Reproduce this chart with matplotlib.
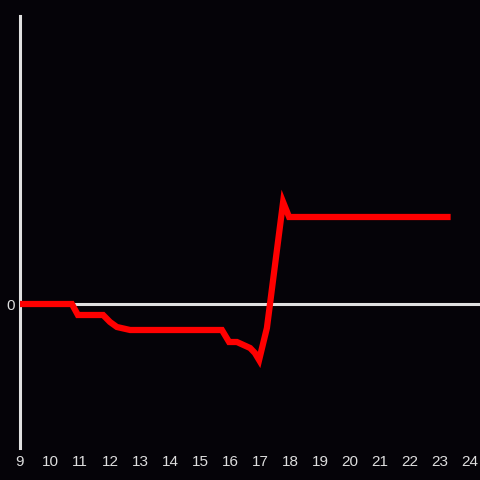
import matplotlib
matplotlib.use("Agg")
import matplotlib.pyplot as plt

hours = [9.0, 10.73, 10.93, 11.77, 12.0, 12.23, 12.67, 15.73, 15.97, 16.23,
         16.67, 16.83, 16.97, 17.23, 17.5, 17.77, 17.97, 23.25]
values = [0, 0, -11, -11, -18, -23, -26, -26, -38, -38,
          -44, -49, -56, -24, 39, 102, 87, 87]
xticks = list(range(9, 25))

plt.rcParams['font.family'] = ['Liberation Sans', 'DejaVu Sans']

bg = '#050308'
fig = plt.figure(figsize=(4.8, 4.8), dpi=100, facecolor=bg)
ax = fig.add_axes([20 / 480, 32 / 480, 460 / 480, 432 / 480], facecolor=bg)

ax.plot(hours, values, color='#ff0000', lw=4.5, solid_joinstyle='miter', zorder=3)
ax.axhline(0, color='#e0e0e0', lw=2.2, zorder=2)

ax.set_xlim(9, 24.333)
ax.set_ylim(-144, 288)
ax.set_xticks(xticks)
ax.set_xticklabels([str(t) for t in xticks])
ax.set_yticks([0])
ax.set_yticklabels(['0'])
ax.tick_params(colors='#dddddd', labelsize=11, length=0, pad=5)
ax.tick_params(axis='y', pad=4)

for side in ['top', 'right', 'bottom']:
    ax.spines[side].set_visible(False)
ax.spines['left'].set_color('#e0e0e0')
ax.spines['left'].set_linewidth(2.2)

fig.savefig('out.png', dpi=100, facecolor=bg)
